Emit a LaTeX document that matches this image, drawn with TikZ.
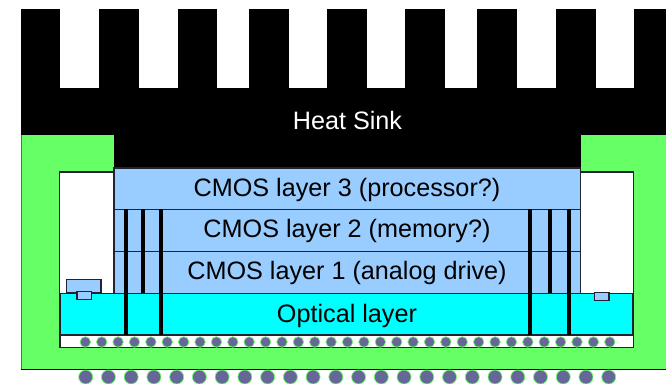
\documentclass[tikz,border=0pt]{standalone}
\usepackage{fontspec}
\setmainfont{Liberation Sans}
\definecolor{grn}{HTML}{66FF66}
\definecolor{lblue}{HTML}{99CCFF}
\definecolor{cyn}{HTML}{00FFFF}
\definecolor{dotc}{HTML}{666699}
\definecolor{edge}{HTML}{222233}
\tikzset{
 box/.style={draw=edge,line width=1.6pt},
 via/.style={draw=black,line width=3.8pt},
 lbl/.style={font=\fontsize{25.2}{29}\selectfont,inner sep=0pt,text=black,anchor=center},
 updot/.style={circle,fill=dotc,draw=grn,line width=0.7pt,minimum size=10.5pt,inner sep=0pt},
 lowdot/.style={circle,fill=dotc,draw=grn,line width=0.7pt,minimum size=14pt,inner sep=0pt}
}
\begin{document}
\begin{tikzpicture}[x=1pt,y=-1pt]
\useasboundingbox (0,0) rectangle (666,383);
\fill[white] (0,0) rectangle (666,383);
% heat sink
\fill[black] (20.5,88) rectangle (666,168);
\foreach \x/\e in {20.5/60,99/139,177.5/217.3,249/289,327.3/367,405.3/445.3,477/517,556/596,634/666}
  \fill[black] (\x,9) rectangle (\e,90);
% green package
\fill[grn] (21.5,135) rectangle (114,172);
\fill[grn] (581,135) rectangle (666,172);
\fill[grn] (21.5,172) rectangle (666,369);
\draw[black,line width=0.9pt] (21,369) -- (666,369);
\draw[black!60,line width=0.9pt] (21,135) -- (21,369);
\draw[box,fill=white] (59.5,172) rectangle (633.5,347.5);
% small blocks
\draw[box,fill=lblue] (66.5,279.5) rectangle (101,293);
% layers
\draw[box,fill=lblue] (114,168) rectangle (580.5,209.5);
\draw[box,fill=lblue] (114,209.5) rectangle (580.5,251.5);
\draw[box,fill=lblue] (114,251.5) rectangle (580.5,293.5);
\draw[box,fill=cyn] (60,293.5) rectangle (633,335);
\draw[box,fill=white] (60,335) rectangle (633.5,347.5);
\draw[box,fill=lblue] (77,291.5) rectangle (91.5,299.5);
\draw[box,fill=lblue] (594.5,292.5) rectangle (609,300.5);
% vias
\foreach \x in {125.7,161.3,530.3,568.7} \draw[via] (\x,209) -- (\x,335);
\foreach \x in {142.7,550} \draw[via] (\x,209) -- (\x,293);
% labels
\node[lbl,text=white] (hs) at (347.5,120.5) {Heat Sink};
\node[lbl] (l3) at (347,189.5) {CMOS layer 3 (processor?)};
\node[lbl] (l2) at (347,231) {CMOS layer 2 (memory?)};
\node[lbl] (l1) at (347,273) {CMOS layer 1 (analog drive)};
\node[lbl] (op) at (347,316) {Optical layer};
% bumps
\foreach \i in {0,...,32} \node[updot] (u\i) at ({85.3+16.39*\i},342) {};
\foreach \i in {0,...,23} \node[lowdot] (d\i) at ({85.7+22.74*\i},377) {};
\end{tikzpicture}
\end{document}
